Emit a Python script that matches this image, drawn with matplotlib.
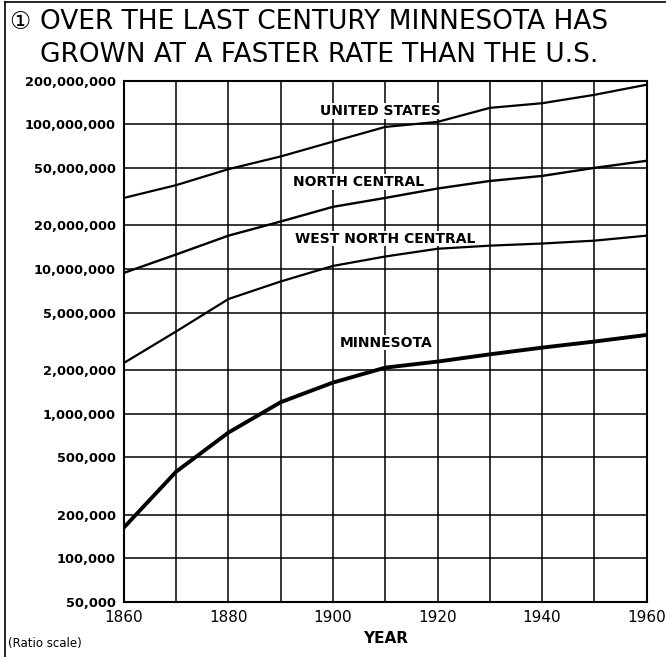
import matplotlib.pyplot as plt
from matplotlib.ticker import FixedLocator, NullLocator

years = [1860, 1870, 1880, 1890, 1900, 1910, 1920, 1930, 1940, 1950, 1960]
us = [31e6, 38e6, 49e6, 60e6, 76e6, 96e6, 104e6, 130e6, 140e6, 160e6, 188e6]
north_central = [9.4e6, 12.6e6, 17e6, 21.3e6, 26.9e6, 31e6, 36e6, 40.6e6, 44e6, 50e6, 56e6]
west_north_central = [2.24e6, 3.7e6, 6.2e6, 8.2e6, 10.5e6, 12.2e6, 13.8e6, 14.5e6, 15e6, 15.7e6, 17e6]
minnesota = [163e3, 397e3, 740e3, 1.2e6, 1.64e6, 2.08e6, 2.29e6, 2.57e6, 2.86e6, 3.15e6, 3.5e6]

y_ticks = [50e3, 100e3, 200e3, 500e3, 1e6, 2e6, 5e6, 10e6, 20e6, 50e6, 100e6, 200e6]
x_labels = [1860, 1880, 1900, 1920, 1940, 1960]

plt.rcParams['font.family'] = ['DejaVu Sans', 'Noto Sans CJK SC']

fig = plt.figure(figsize=(6.66, 6.57), dpi=100)
ax = fig.add_axes([0.186, 0.084, 0.785, 0.793])

ax.plot(years, us, color='black', lw=1.6, zorder=3)
ax.plot(years, north_central, color='black', lw=1.7, zorder=3)
ax.plot(years, west_north_central, color='black', lw=1.6, zorder=3)
ax.plot(years, minnesota, color='black', lw=2.8, zorder=3)

ax.set_yscale('log')
ax.set_xlim(1860, 1960)
ax.set_ylim(50e3, 200e6)
ax.yaxis.set_major_locator(FixedLocator(y_ticks))
ax.yaxis.set_minor_locator(NullLocator())
ax.set_yticklabels([f"{int(v):,}" for v in y_ticks], fontsize=9.3, fontweight='bold')
ax.set_xticks(range(1860, 1961, 10))
ax.set_xticklabels([str(y) if y in x_labels else '' for y in range(1860, 1961, 10)],
                   fontsize=11)
ax.tick_params(length=0, pad=6)
ax.grid(True, color='black', lw=1.1)
for s in ax.spines.values():
    s.set_linewidth(1.5)

lab = dict(fontsize=10, fontweight='bold', ha='left', va='center', zorder=2,
           bbox=dict(facecolor='white', edgecolor='none', pad=0.5))
ax.text(1897.5, 124e6, 'UNITED STATES', **lab)
ax.text(1892.3, 40e6, 'NORTH CENTRAL', **lab)
ax.text(1892.7, 16.2e6, 'WEST NORTH CENTRAL', **lab)
ax.text(1901.3, 3.1e6, 'MINNESOTA', **lab)

ax.set_xlabel('YEAR', fontsize=11, fontweight='bold', labelpad=4)
fig.text(0.012, 0.021, '(Ratio scale)', fontsize=8.5, va='center')

fig.text(0.014, 0.966, '\u2460', fontsize=17, va='center')
fig.text(0.06, 0.966, 'OVER THE LAST CENTURY MINNESOTA HAS', fontsize=19, va='center')
fig.text(0.06, 0.916, 'GROWN AT A FASTER RATE THAN THE U.S.', fontsize=19, va='center')

fig.add_artist(plt.Line2D([0.008, 0.008], [0.0, 0.997], color='black', lw=1.2))
fig.add_artist(plt.Line2D([0.008, 1.0], [0.997, 0.997], color='black', lw=1.2))

fig.savefig('out.png', dpi=100)
